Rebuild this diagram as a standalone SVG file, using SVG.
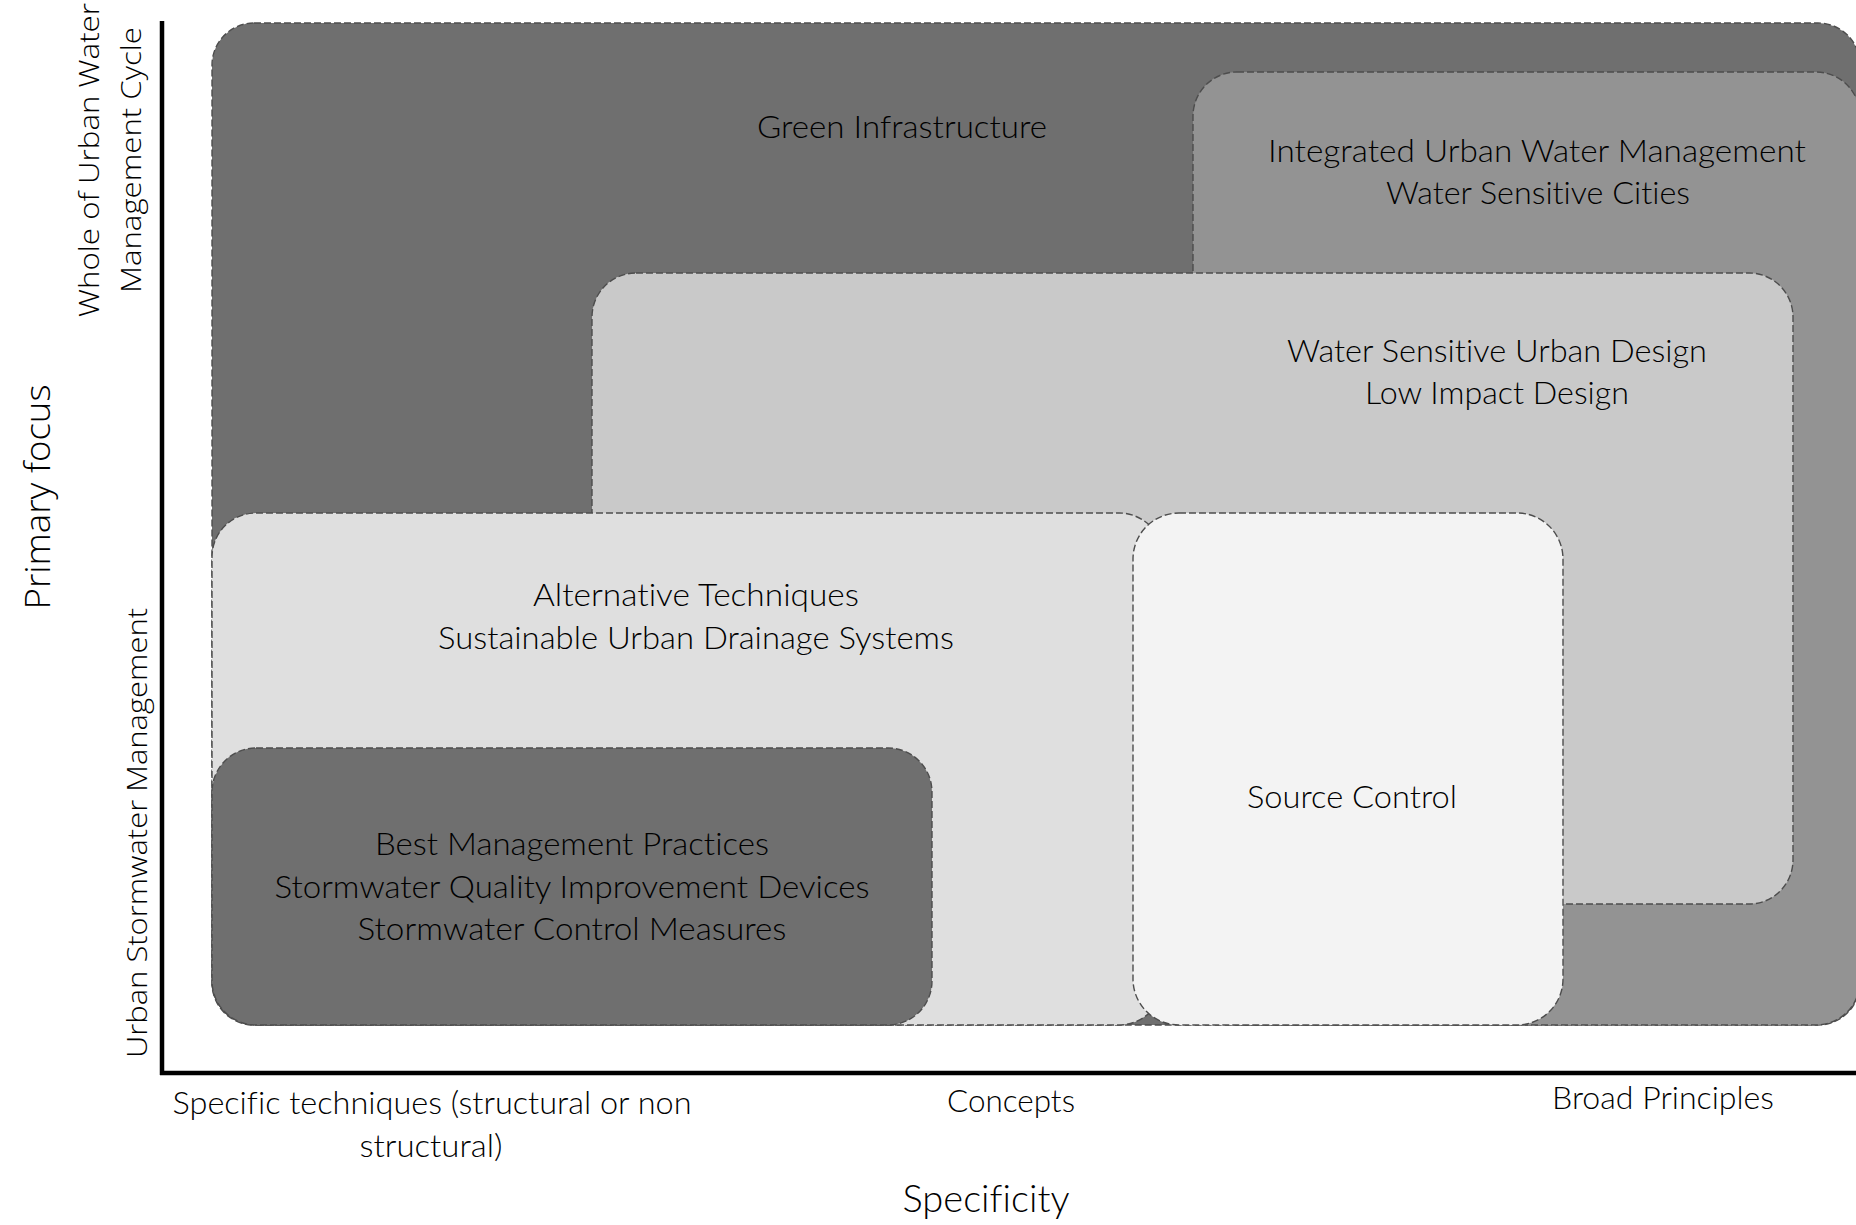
<svg xmlns="http://www.w3.org/2000/svg" width="1856" height="1225" viewBox="0 0 1856 1225">
  <style>
    .box { stroke: #4d4d4d; stroke-width: 1.4; stroke-dasharray: 7 3; }
    .lbl { font-family: Lato, "Liberation Sans", sans-serif; font-weight: 300; font-size: 31px; fill: #000; text-anchor: middle; font-variant-ligatures: none; }
    .axl { font-family: Lato, "Liberation Sans", sans-serif; font-weight: 300; font-size: 31px; fill: #000; text-anchor: middle; font-variant-ligatures: none; }
    .ylab { font-family: "Open Sans", "DejaVu Sans", sans-serif; font-weight: 300; font-size: 27px; fill: #000; text-anchor: middle; }
    .axis { stroke: #000; stroke-width: 4.5; fill: none; }
  </style>
  <rect width="1856" height="1225" fill="#fff"/>

  <!-- nested approach regions, broadest at the back -->
  <g id="green-infrastructure">
    <rect class="box" x="212" y="23" width="1648" height="1002" rx="42" fill="#6f6f6f"/>
    <text class="lbl" x="902" y="138" textLength="290" lengthAdjust="spacingAndGlyphs">Green Infrastructure</text>
  </g>
  <g id="iuwm">
    <rect class="box" x="1193" y="72" width="667" height="953" rx="44" fill="#939393"/>
    <text class="lbl" x="1537" y="162" textLength="538" lengthAdjust="spacingAndGlyphs">Integrated Urban Water Management</text>
    <text class="lbl" x="1538" y="204" textLength="304" lengthAdjust="spacingAndGlyphs">Water Sensitive Cities</text>
  </g>
  <g id="wsud">
    <rect class="box" x="592" y="273" width="1201" height="631" rx="44" fill="#c9c9c9"/>
    <text class="lbl" x="1497" y="362" textLength="420" lengthAdjust="spacingAndGlyphs">Water Sensitive Urban Design</text>
    <text class="lbl" x="1497" y="404" textLength="264" lengthAdjust="spacingAndGlyphs">Low Impact Design</text>
  </g>
  <g id="alternative-techniques">
    <rect class="box" x="212" y="513" width="951" height="512" rx="44" fill="#dfdfdf"/>
    <text class="lbl" x="696" y="606" textLength="326" lengthAdjust="spacingAndGlyphs">Alternative Techniques</text>
    <text class="lbl" x="696" y="649" textLength="516" lengthAdjust="spacingAndGlyphs">Sustainable Urban Drainage Systems</text>
  </g>
  <g id="bmp">
    <rect class="box" x="212" y="748" width="720" height="277" rx="44" fill="#6f6f6f"/>
    <text class="lbl" x="572" y="855" textLength="394" lengthAdjust="spacingAndGlyphs">Best Management Practices</text>
    <text class="lbl" x="572" y="898" textLength="595" lengthAdjust="spacingAndGlyphs">Stormwater Quality Improvement Devices</text>
    <text class="lbl" x="572" y="940" textLength="429" lengthAdjust="spacingAndGlyphs">Stormwater Control Measures</text>
  </g>
  <g id="source-control">
    <rect class="box" x="1133" y="513" width="430" height="512" rx="46" fill="#f3f3f3"/>
    <text class="lbl" x="1352" y="808" textLength="210" lengthAdjust="spacingAndGlyphs">Source Control</text>
  </g>

  <!-- axes -->
  <g id="axes">
    <line class="axis" x1="162" y1="21" x2="162" y2="1075"/>
    <line class="axis" x1="160" y1="1073" x2="1856" y2="1073"/>
  </g>

  <!-- vertical axis labels -->
  <g id="y-labels">
    <text class="ylab" transform="translate(99,160) rotate(-90)" textLength="314" lengthAdjust="spacingAndGlyphs">Whole of Urban Water</text>
    <text class="ylab" transform="translate(141,160) rotate(-90)" textLength="266" lengthAdjust="spacingAndGlyphs">Management Cycle</text>
    <text class="ylab" transform="translate(147,833) rotate(-90)" textLength="450" lengthAdjust="spacingAndGlyphs">Urban Stormwater Management</text>
    <text class="ylab" style="font-size:35px" transform="translate(50,497) rotate(-90)" textLength="225" lengthAdjust="spacingAndGlyphs">Primary focus</text>
  </g>

  <!-- horizontal axis labels -->
  <g id="x-labels">
    <text class="axl" x="432" y="1114" textLength="519" lengthAdjust="spacingAndGlyphs">Specific techniques (structural or non</text>
    <text class="axl" x="431" y="1157" textLength="143" lengthAdjust="spacingAndGlyphs">structural)</text>
    <text class="axl" x="1011" y="1112" textLength="128" lengthAdjust="spacingAndGlyphs">Concepts</text>
    <text class="axl" x="1663" y="1109" textLength="222" lengthAdjust="spacingAndGlyphs">Broad Principles</text>
    <text class="axl" style="font-size:37px" x="986" y="1212" textLength="167" lengthAdjust="spacingAndGlyphs">Specificity</text>
  </g>
</svg>
